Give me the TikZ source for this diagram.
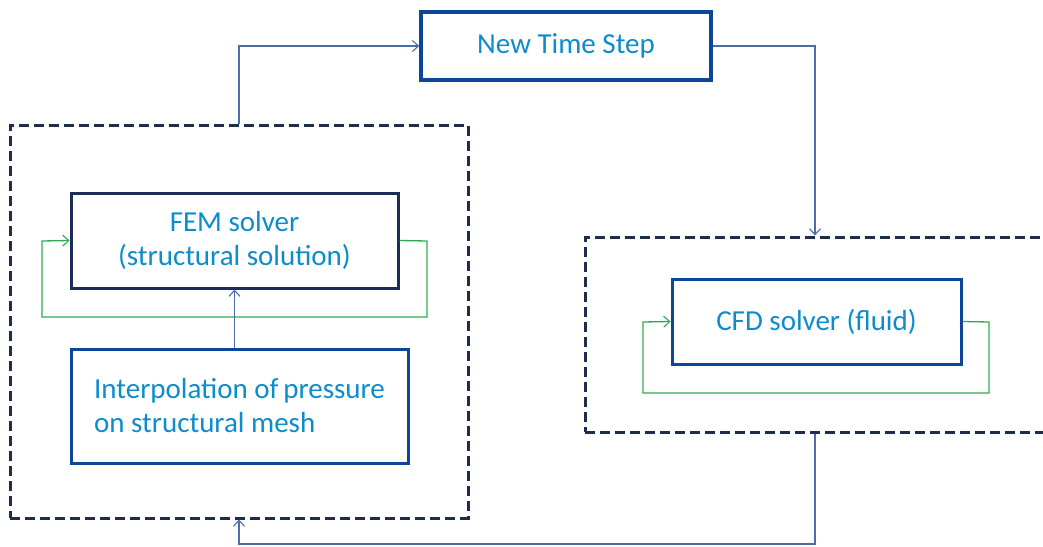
\documentclass[tikz,border=0pt]{standalone}
\usepackage{fontspec}
\setmainfont{Carlito}
\usetikzlibrary{arrows.meta}

\definecolor{txtblue}{RGB}{12,140,205}
\definecolor{boxblue}{RGB}{12,70,155}
\definecolor{boxnavy}{RGB}{28,45,90}
\definecolor{dashnavy}{RGB}{30,45,75}
\definecolor{linkblue}{RGB}{75,110,170}
\definecolor{loopgreen}{RGB}{45,170,80}

\tikzset{
  stepbox/.style={draw=boxblue, line width=3pt, rectangle, inner sep=0pt,
    text=txtblue, font=\fontsize{29}{34}\selectfont, align=center},
  groupbox/.style={draw=dashnavy, line width=3pt, rectangle, inner sep=0pt,
    dash pattern=on 10pt off 5pt},
  tip/.style={-{Straight Barb[length=6pt,width=11pt,line width=1.1pt]}},
  link/.style={draw=linkblue, line width=1.3pt, tip},
  loop/.style={draw=loopgreen, line width=1.3pt, tip},
}

\begin{document}
\begin{tikzpicture}[x=1pt, y=-1pt]
  \useasboundingbox (0,0) rectangle (1043,546);
  \clip (0,0) rectangle (1043,546);

  % dashed groups
  \node[groupbox, minimum width=458pt, minimum height=393pt] (fgrp) at (239,321.5) {};
  \node[groupbox, minimum width=460pt, minimum height=195pt] (cgrp) at (815,334.5) {};

  % process boxes
  \node[stepbox, line width=3.6pt, minimum width=290pt, minimum height=68pt] (nts) at (566,46) {New Time Step};
  \node[stepbox, draw=boxnavy, minimum width=327pt, minimum height=95pt] (fem) at (234.5,240.5)
    {FEM solver\\(structural solution)};
  \node[stepbox, minimum width=337pt, minimum height=114pt, align=left] (interp) at (239.5,406)
    {Interpolation of\,pressure\\on structural mesh};
  \node[stepbox, minimum width=289pt, minimum height=85pt] (cfd) at (816.5,321.5) {CFD solver (fluid)};

  % time-step loop
  \draw[link] (fgrp.north) |- (nts.west);
  \draw[link] (nts.east) -| (cgrp.north);
  \coordinate (b1) at (815,544);
  \coordinate (b2) at (239,544);
  \draw[link] (cgrp.south) -- (b1) -- (b2) -- (fgrp.south);

  % pressure handed to the structural solver
  \draw[link] (interp.north -| fem.south) -- (fem.south);

  % inner iterations
  \coordinate (f1) at (427,241);
  \coordinate (f2) at (427,317);
  \coordinate (f3) at (42,317);
  \coordinate (f4) at (42,241);
  \draw[loop] (fem.east) -- (f1) -- (f2) -- (f3) -- (f4) -- (fem.west);

  \coordinate (c1) at (989,322);
  \coordinate (c2) at (989,393);
  \coordinate (c3) at (643,393);
  \coordinate (c4) at (643,322);
  \draw[loop] (cfd.east) -- (c1) -- (c2) -- (c3) -- (c4) -- (cfd.west);
\end{tikzpicture}
\end{document}
